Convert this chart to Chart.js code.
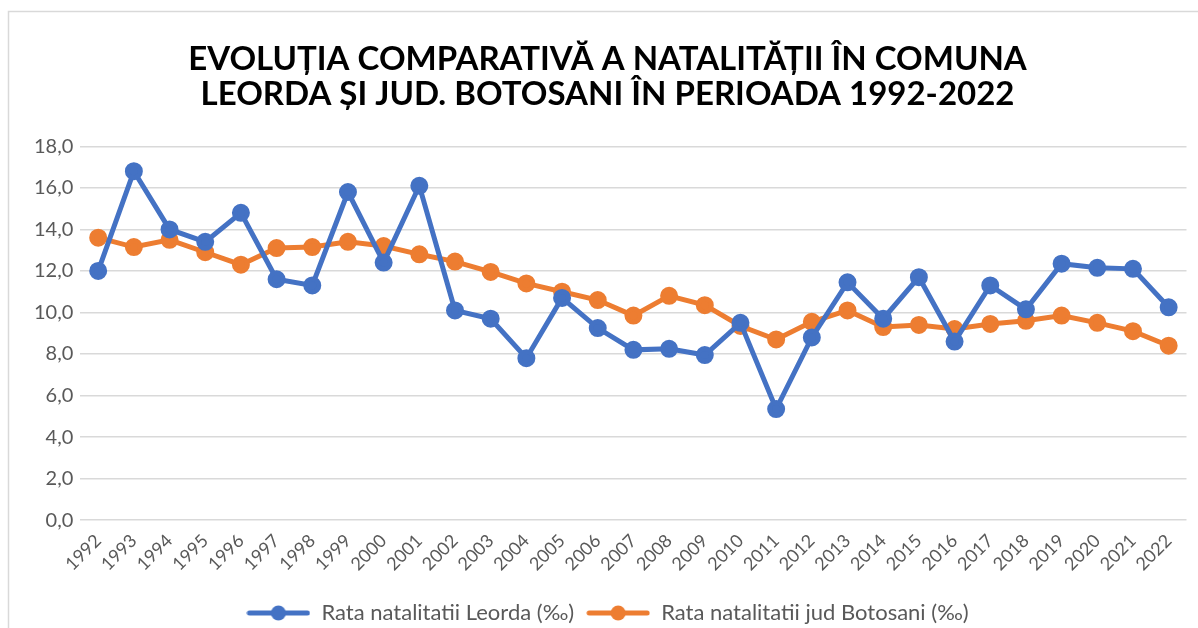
<!DOCTYPE html>
<html>
<head>
    <meta charset="UTF-8">
    <title>Natalitate Leorda</title>
    <script src="https://cdn.jsdelivr.net/npm/chart.js@4"></script>
    <style>
        body { margin: 0; background: #fff; }
        #wrap { width: 1198px; height: 628px; position: relative; }
    </style>
</head>
<body>
<div id="wrap"><canvas id="chart" width="1198" height="628"></canvas></div>
<script>
    const years = ['1992','1993','1994','1995','1996','1997','1998','1999','2000','2001',
        '2002','2003','2004','2005','2006','2007','2008','2009','2010','2011',
        '2012','2013','2014','2015','2016','2017','2018','2019','2020','2021','2022'];
    const leorda = [12.0, 16.8, 14.0, 13.4, 14.8, 11.6, 11.3, 15.8, 12.4, 16.1,
        10.1, 9.7, 7.8, 10.7, 9.25, 8.2, 8.25, 7.95, 9.5, 5.35,
        8.8, 11.45, 9.7, 11.7, 8.6, 11.3, 10.15, 12.35, 12.15, 12.1, 10.25];
    const botosani = [13.6, 13.15, 13.5, 12.9, 12.3, 13.1, 13.15, 13.4, 13.2, 12.8,
        12.45, 11.95, 11.4, 11.0, 10.6, 9.85, 10.8, 10.35, 9.35, 8.7,
        9.55, 10.1, 9.3, 9.4, 9.2, 9.45, 9.6, 9.85, 9.5, 9.1, 8.4];
    const seriesNames = ['Rata natalitatii Leorda (‰)', 'Rata natalitatii jud Botosani (‰)'];
    const titleLines = ['EVOLUȚIA COMPARATIVĂ A NATALITĂȚII ÎN COMUNA', 'LEORDA ȘI JUD. BOTOSANI ÎN PERIOADA 1992-2022'];

    const blue = '#4472c4';
    const orange = '#ed7d31';

    // little line+dot symbol for the legend, like office charts
    function legendIcon(color) {
        const c = document.createElement('canvas');
        c.width = 64; c.height = 18;
        const g = c.getContext('2d');
        g.strokeStyle = color; g.lineWidth = 5; g.lineCap = 'round';
        g.beginPath(); g.moveTo(3, 9); g.lineTo(61, 9); g.stroke();
        g.fillStyle = color;
        g.beginPath(); g.arc(32, 9, 7.5, 0, Math.PI * 2); g.fill();
        return c;
    }

    const frame = {
        id: 'frame',
        afterDraw(chart) {
            const ctx = chart.ctx;
            ctx.save();
            ctx.strokeStyle = '#d9d9d9';
            ctx.lineWidth = 1.5;
            ctx.beginPath();
            ctx.moveTo(8.5, 628); ctx.lineTo(8.5, 11.5); ctx.lineTo(1198, 11.5);
            ctx.stroke();
            ctx.restore();
        }
    };

    new Chart(document.getElementById('chart'), {
        type: 'line',
        data: {
            labels: years,
            datasets: [{
                label: seriesNames[0],
                data: leorda,
                borderColor: blue,
                backgroundColor: blue,
                borderWidth: 5,
                pointRadius: 6.5,
                pointHoverRadius: 6.5,
                pointStyle: 'circle',
                tension: 0
            }, {
                label: seriesNames[1],
                data: botosani,
                borderColor: orange,
                backgroundColor: orange,
                borderWidth: 5,
                pointRadius: 6.5,
                pointHoverRadius: 6.5,
                pointStyle: 'circle',
                tension: 0
            }]
        },
        options: {
            responsive: false,
            animation: false,
            layout: { padding: { left: 27, right: 10, top: 24, bottom: -6 } },
            plugins: {
                title: {
                    display: true,
                    text: titleLines,
                    color: '#000',
                    font: { family: 'Lato', size: 33, weight: 'bold', lineHeight: 1.05 },
                    padding: { top: 18, bottom: 35 }
                },
                legend: {
                    position: 'bottom',
                    labels: {
                        color: '#595959',
                        font: { family: 'Lato', size: 22 },
                        usePointStyle: true,
                        pointStyleWidth: 64,
                        padding: 12,
                        generateLabels(chart) {
                            return chart.data.datasets.map((ds, i) => ({
                                text: ds.label,
                                pointStyle: legendIcon(ds.borderColor),
                                fontColor: '#595959',
                                strokeStyle: ds.borderColor,
                                fillStyle: ds.borderColor,
                                lineWidth: 0,
                                datasetIndex: i
                            }));
                        }
                    }
                },
                tooltip: { enabled: false }
            },
            scales: {
                x: {
                    offset: true,
                    grid: { display: false },
                    border: { display: false },
                    afterFit(scale) { scale.height += 13; },
                    ticks: {
                        color: '#595959',
                        font: { family: 'Lato', size: 18 },
                        minRotation: 45,
                        maxRotation: 45,
                        autoSkip: false,
                        padding: 2
                    }
                },
                y: {
                    min: 0,
                    max: 18,
                    grid: { color: '#d9d9d9', lineWidth: 1.5, drawTicks: false },
                    border: { display: false },
                    ticks: {
                        stepSize: 2,
                        color: '#595959',
                        font: { family: 'Lato', size: 20 },
                        padding: 7,
                        callback: v => v.toFixed(1).replace('.', ',')
                    }
                }
            }
        },
        plugins: [frame]
    });
</script>
</body>
</html>
